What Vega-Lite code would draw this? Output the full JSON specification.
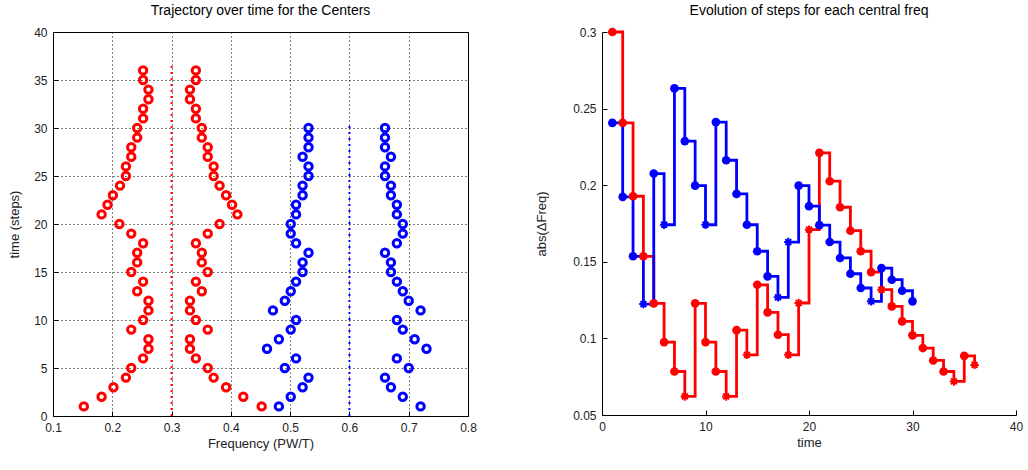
{
  "$schema": "https://vega.github.io/schema/vega-lite/v6.json",
  "background": "white",
  "padding": {"left": 8, "top": 3, "right": 5, "bottom": 3},
  "spacing": 58,
  "datasets": {
    "traj": [
      {"step":1,"freq":0.152,"center":"red","side":"L"},{"step":2,"freq":0.182,"center":"red","side":"L"},{"step":3,"freq":0.202,"center":"red","side":"L"},{"step":4,"freq":0.223,"center":"red","side":"L"},{"step":5,"freq":0.232,"center":"red","side":"L"},{"step":6,"freq":0.252,"center":"red","side":"L"},{"step":7,"freq":0.261,"center":"red","side":"L"},{"step":8,"freq":0.261,"center":"red","side":"L"},{"step":9,"freq":0.232,"center":"red","side":"L"},{"step":10,"freq":0.252,"center":"red","side":"L"},{"step":11,"freq":0.261,"center":"red","side":"L"},{"step":12,"freq":0.261,"center":"red","side":"L"},{"step":13,"freq":0.242,"center":"red","side":"L"},{"step":14,"freq":0.252,"center":"red","side":"L"},{"step":15,"freq":0.232,"center":"red","side":"L"},{"step":16,"freq":0.242,"center":"red","side":"L"},{"step":17,"freq":0.242,"center":"red","side":"L"},{"step":18,"freq":0.252,"center":"red","side":"L"},{"step":19,"freq":0.232,"center":"red","side":"L"},{"step":20,"freq":0.212,"center":"red","side":"L"},{"step":21,"freq":0.182,"center":"red","side":"L"},{"step":22,"freq":0.192,"center":"red","side":"L"},{"step":23,"freq":0.201,"center":"red","side":"L"},{"step":24,"freq":0.213,"center":"red","side":"L"},{"step":25,"freq":0.223,"center":"red","side":"L"},{"step":26,"freq":0.223,"center":"red","side":"L"},{"step":27,"freq":0.232,"center":"red","side":"L"},{"step":28,"freq":0.232,"center":"red","side":"L"},{"step":29,"freq":0.242,"center":"red","side":"L"},{"step":30,"freq":0.242,"center":"red","side":"L"},{"step":31,"freq":0.252,"center":"red","side":"L"},{"step":32,"freq":0.252,"center":"red","side":"L"},{"step":33,"freq":0.261,"center":"red","side":"L"},{"step":34,"freq":0.261,"center":"red","side":"L"},{"step":35,"freq":0.252,"center":"red","side":"L"},{"step":36,"freq":0.252,"center":"red","side":"L"},
      {"step":1,"freq":0.452,"center":"red","side":"R"},{"step":2,"freq":0.421,"center":"red","side":"R"},{"step":3,"freq":0.392,"center":"red","side":"R"},{"step":4,"freq":0.371,"center":"red","side":"R"},{"step":5,"freq":0.361,"center":"red","side":"R"},{"step":6,"freq":0.341,"center":"red","side":"R"},{"step":7,"freq":0.331,"center":"red","side":"R"},{"step":8,"freq":0.331,"center":"red","side":"R"},{"step":9,"freq":0.361,"center":"red","side":"R"},{"step":10,"freq":0.341,"center":"red","side":"R"},{"step":11,"freq":0.331,"center":"red","side":"R"},{"step":12,"freq":0.331,"center":"red","side":"R"},{"step":13,"freq":0.351,"center":"red","side":"R"},{"step":14,"freq":0.341,"center":"red","side":"R"},{"step":15,"freq":0.361,"center":"red","side":"R"},{"step":16,"freq":0.351,"center":"red","side":"R"},{"step":17,"freq":0.351,"center":"red","side":"R"},{"step":18,"freq":0.341,"center":"red","side":"R"},{"step":19,"freq":0.361,"center":"red","side":"R"},{"step":20,"freq":0.381,"center":"red","side":"R"},{"step":21,"freq":0.411,"center":"red","side":"R"},{"step":22,"freq":0.402,"center":"red","side":"R"},{"step":23,"freq":0.392,"center":"red","side":"R"},{"step":24,"freq":0.381,"center":"red","side":"R"},{"step":25,"freq":0.371,"center":"red","side":"R"},{"step":26,"freq":0.371,"center":"red","side":"R"},{"step":27,"freq":0.361,"center":"red","side":"R"},{"step":28,"freq":0.361,"center":"red","side":"R"},{"step":29,"freq":0.351,"center":"red","side":"R"},{"step":30,"freq":0.351,"center":"red","side":"R"},{"step":31,"freq":0.341,"center":"red","side":"R"},{"step":32,"freq":0.341,"center":"red","side":"R"},{"step":33,"freq":0.331,"center":"red","side":"R"},{"step":34,"freq":0.331,"center":"red","side":"R"},{"step":35,"freq":0.341,"center":"red","side":"R"},{"step":36,"freq":0.341,"center":"red","side":"R"},
      {"step":1,"freq":0.481,"center":"blue","side":"L"},{"step":2,"freq":0.501,"center":"blue","side":"L"},{"step":3,"freq":0.521,"center":"blue","side":"L"},{"step":4,"freq":0.531,"center":"blue","side":"L"},{"step":5,"freq":0.491,"center":"blue","side":"L"},{"step":6,"freq":0.510,"center":"blue","side":"L"},{"step":7,"freq":0.461,"center":"blue","side":"L"},{"step":8,"freq":0.481,"center":"blue","side":"L"},{"step":9,"freq":0.501,"center":"blue","side":"L"},{"step":10,"freq":0.510,"center":"blue","side":"L"},{"step":11,"freq":0.471,"center":"blue","side":"L"},{"step":12,"freq":0.491,"center":"blue","side":"L"},{"step":13,"freq":0.501,"center":"blue","side":"L"},{"step":14,"freq":0.510,"center":"blue","side":"L"},{"step":15,"freq":0.521,"center":"blue","side":"L"},{"step":16,"freq":0.521,"center":"blue","side":"L"},{"step":17,"freq":0.531,"center":"blue","side":"L"},{"step":18,"freq":0.510,"center":"blue","side":"L"},{"step":19,"freq":0.501,"center":"blue","side":"L"},{"step":20,"freq":0.501,"center":"blue","side":"L"},{"step":21,"freq":0.510,"center":"blue","side":"L"},{"step":22,"freq":0.510,"center":"blue","side":"L"},{"step":23,"freq":0.521,"center":"blue","side":"L"},{"step":24,"freq":0.521,"center":"blue","side":"L"},{"step":25,"freq":0.531,"center":"blue","side":"L"},{"step":26,"freq":0.531,"center":"blue","side":"L"},{"step":27,"freq":0.521,"center":"blue","side":"L"},{"step":28,"freq":0.531,"center":"blue","side":"L"},{"step":29,"freq":0.531,"center":"blue","side":"L"},{"step":30,"freq":0.531,"center":"blue","side":"L"},
      {"step":1,"freq":0.720,"center":"blue","side":"R"},{"step":2,"freq":0.690,"center":"blue","side":"R"},{"step":3,"freq":0.670,"center":"blue","side":"R"},{"step":4,"freq":0.660,"center":"blue","side":"R"},{"step":5,"freq":0.700,"center":"blue","side":"R"},{"step":6,"freq":0.680,"center":"blue","side":"R"},{"step":7,"freq":0.730,"center":"blue","side":"R"},{"step":8,"freq":0.710,"center":"blue","side":"R"},{"step":9,"freq":0.690,"center":"blue","side":"R"},{"step":10,"freq":0.680,"center":"blue","side":"R"},{"step":11,"freq":0.720,"center":"blue","side":"R"},{"step":12,"freq":0.700,"center":"blue","side":"R"},{"step":13,"freq":0.690,"center":"blue","side":"R"},{"step":14,"freq":0.680,"center":"blue","side":"R"},{"step":15,"freq":0.670,"center":"blue","side":"R"},{"step":16,"freq":0.670,"center":"blue","side":"R"},{"step":17,"freq":0.660,"center":"blue","side":"R"},{"step":18,"freq":0.680,"center":"blue","side":"R"},{"step":19,"freq":0.690,"center":"blue","side":"R"},{"step":20,"freq":0.690,"center":"blue","side":"R"},{"step":21,"freq":0.680,"center":"blue","side":"R"},{"step":22,"freq":0.680,"center":"blue","side":"R"},{"step":23,"freq":0.670,"center":"blue","side":"R"},{"step":24,"freq":0.670,"center":"blue","side":"R"},{"step":25,"freq":0.660,"center":"blue","side":"R"},{"step":26,"freq":0.660,"center":"blue","side":"R"},{"step":27,"freq":0.670,"center":"blue","side":"R"},{"step":28,"freq":0.660,"center":"blue","side":"R"},{"step":29,"freq":0.660,"center":"blue","side":"R"},{"step":30,"freq":0.660,"center":"blue","side":"R"}
    ],
    "centers": [
      {"freq":0.3,"s0":0,"s1":36.5,"center":"red"},
      {"freq":0.6,"s0":0,"s1":30.5,"center":"blue"}
    ],
    "steps": [
      {"time":1,"delta":0.300,"center":"red","marker":"dot"},{"time":2,"delta":0.2407,"center":"red","marker":"dot"},{"time":3,"delta":0.1928,"center":"red","marker":"dot"},{"time":4,"delta":0.1536,"center":"red","marker":"dot"},{"time":5,"delta":0.1229,"center":"red","marker":"dot"},{"time":6,"delta":0.0976,"center":"red","marker":"dot"},{"time":7,"delta":0.0784,"center":"red","marker":"dot"},{"time":8,"delta":0.0621,"center":"red","marker":"star"},{"time":9,"delta":0.1229,"center":"red","marker":"dot"},{"time":10,"delta":0.0976,"center":"red","marker":"dot"},{"time":11,"delta":0.0784,"center":"red","marker":"dot"},{"time":12,"delta":0.0621,"center":"red","marker":"star"},{"time":13,"delta":0.1054,"center":"red","marker":"dot"},{"time":14,"delta":0.0893,"center":"red","marker":"star"},{"time":15,"delta":0.135,"center":"red","marker":"dot"},{"time":16,"delta":0.117,"center":"red","marker":"dot"},{"time":17,"delta":0.1024,"center":"red","marker":"dot"},{"time":18,"delta":0.0893,"center":"red","marker":"star"},{"time":19,"delta":0.1231,"center":"red","marker":"star"},{"time":20,"delta":0.171,"center":"red","marker":"star"},{"time":21,"delta":0.2211,"center":"red","marker":"dot"},{"time":22,"delta":0.2026,"center":"red","marker":"dot"},{"time":23,"delta":0.1856,"center":"red","marker":"dot"},{"time":24,"delta":0.1703,"center":"red","marker":"dot"},{"time":25,"delta":0.1569,"center":"red","marker":"dot"},{"time":26,"delta":0.1433,"center":"red","marker":"dot"},{"time":27,"delta":0.1318,"center":"red","marker":"star"},{"time":28,"delta":0.1209,"center":"red","marker":"dot"},{"time":29,"delta":0.1111,"center":"red","marker":"dot"},{"time":30,"delta":0.102,"center":"red","marker":"dot"},{"time":31,"delta":0.0937,"center":"red","marker":"dot"},{"time":32,"delta":0.0856,"center":"red","marker":"dot"},{"time":33,"delta":0.0784,"center":"red","marker":"dot"},{"time":34,"delta":0.0719,"center":"red","marker":"star"},{"time":35,"delta":0.0886,"center":"red","marker":"dot"},{"time":36,"delta":0.0827,"center":"red","marker":"star"},
      {"time":1,"delta":0.2407,"center":"blue","marker":"dot"},{"time":2,"delta":0.1924,"center":"blue","marker":"dot"},{"time":3,"delta":0.1536,"center":"blue","marker":"dot"},{"time":4,"delta":0.1224,"center":"blue","marker":"star"},{"time":5,"delta":0.2076,"center":"blue","marker":"dot"},{"time":6,"delta":0.1742,"center":"blue","marker":"star"},{"time":7,"delta":0.2632,"center":"blue","marker":"dot"},{"time":8,"delta":0.2288,"center":"blue","marker":"dot"},{"time":9,"delta":0.1997,"center":"blue","marker":"dot"},{"time":10,"delta":0.1742,"center":"blue","marker":"star"},{"time":11,"delta":0.2412,"center":"blue","marker":"dot"},{"time":12,"delta":0.2163,"center":"blue","marker":"dot"},{"time":13,"delta":0.1943,"center":"blue","marker":"dot"},{"time":14,"delta":0.1742,"center":"blue","marker":"dot"},{"time":15,"delta":0.1569,"center":"blue","marker":"dot"},{"time":16,"delta":0.1405,"center":"blue","marker":"dot"},{"time":17,"delta":0.1268,"center":"blue","marker":"star"},{"time":18,"delta":0.1629,"center":"blue","marker":"star"},{"time":19,"delta":0.1997,"center":"blue","marker":"dot"},{"time":20,"delta":0.1863,"center":"blue","marker":"dot"},{"time":21,"delta":0.1739,"center":"blue","marker":"dot"},{"time":22,"delta":0.1629,"center":"blue","marker":"dot"},{"time":23,"delta":0.1525,"center":"blue","marker":"dot"},{"time":24,"delta":0.1422,"center":"blue","marker":"dot"},{"time":25,"delta":0.1329,"center":"blue","marker":"dot"},{"time":26,"delta":0.1242,"center":"blue","marker":"star"},{"time":27,"delta":0.1459,"center":"blue","marker":"dot"},{"time":28,"delta":0.1383,"center":"blue","marker":"dot"},{"time":29,"delta":0.1311,"center":"blue","marker":"dot"},{"time":30,"delta":0.1242,"center":"blue","marker":"dot"}
    ]
  },
  "hconcat": [
    {
      "width": 415,
      "height": 384,
      "view": {"stroke": "black", "strokeWidth": 1},
      "title": {"text": "Trajectory over time for the Centers", "fontSize": 14, "fontWeight": "normal", "font": "Liberation Sans", "offset": 8},
      "layer": [
        {
          "data": {"name": "centers"},
          "mark": {"type": "rule", "strokeWidth": 2, "strokeDash": [2, 4]},
          "encoding": {
            "x": {"field": "freq", "type": "quantitative"},
            "y": {"field": "s0", "type": "quantitative"},
            "y2": {"field": "s1"},
            "color": {"field": "center", "type": "nominal", "scale": {"domain": ["red", "blue"], "range": ["#ff0000", "#0000ff"]}, "legend": null}
          }
        },
        {
          "data": {"name": "traj"},
          "mark": {"type": "point", "shape": "circle", "filled": false, "size": 55, "strokeWidth": 3, "opacity": 1},
          "encoding": {
            "x": {"field": "freq", "type": "quantitative", "scale": {"domain": [0.1, 0.8], "nice": false, "zero": false},
                  "axis": {"title": "Frequency (PW/T)", "values": [0.1, 0.2, 0.3, 0.4, 0.5, 0.6, 0.7, 0.8], "format": ".1f"}},
            "y": {"field": "step", "type": "quantitative", "scale": {"domain": [0, 40], "nice": false},
                  "axis": {"title": "time (steps)", "values": [0, 5, 10, 15, 20, 25, 30, 35, 40], "titlePadding": 12}},
            "detail": {"field": "side"},
            "color": {"field": "center", "type": "nominal", "scale": {"domain": ["red", "blue"], "range": ["#ff0000", "#0000ff"]}, "legend": null}
          }
        }
      ]
    },
    {
      "width": 414,
      "height": 383,
      "view": {"stroke": null},
      "title": {"text": "Evolution of steps for each central freq", "fontSize": 14, "fontWeight": "normal", "font": "Liberation Sans", "offset": 8},
      "data": {"name": "steps"},
      "encoding": {
        "x": {"field": "time", "type": "quantitative", "scale": {"domain": [0, 40], "nice": false},
              "axis": {"title": "time", "values": [0, 10, 20, 30, 40], "grid": false}},
        "y": {"field": "delta", "type": "quantitative", "scale": {"domain": [0.05, 0.3], "nice": false, "zero": false},
              "axis": {"title": "abs(ΔFreq)", "values": [0.05, 0.1, 0.15, 0.2, 0.25, 0.3], "format": ".2~f", "grid": false, "titlePadding": 24}},
        "color": {"field": "center", "type": "nominal", "scale": {"domain": ["red", "blue"], "range": ["#ff0000", "#0000ff"]}, "legend": null}
      },
      "layer": [
        {"mark": {"type": "line", "interpolate": "step-after", "strokeWidth": 2.8}},
        {"transform": [{"filter": "datum.marker === 'dot'"}],
         "mark": {"type": "point", "shape": "circle", "filled": true, "size": 75, "opacity": 1}},
        {"transform": [{"filter": "datum.marker === 'star'"}],
         "mark": {"type": "point", "shape": "M-1,0L1,0M0,-1L0,1M-0.7,-0.7L0.7,0.7M-0.7,0.7L0.7,-0.7", "filled": false, "size": 70, "strokeWidth": 2, "opacity": 1}}
      ]
    }
  ],
  "config": {
    "font": "Liberation Sans",
    "axis": {
      "domainColor": "black",
      "domainWidth": 1,
      "tickColor": "black",
      "tickSize": -5,
      "labelPadding": 11,
      "labelFontSize": 12,
      "labelColor": "#222222",
      "titleFontSize": 13,
      "titleFontWeight": "normal",
      "titleColor": "#222222",
      "labelFont": "Liberation Sans",
      "titleFont": "Liberation Sans",
      "grid": true,
      "gridColor": "black",
      "gridDash": [1, 3],
      "gridWidth": 1,
      "gridOpacity": 1
    },
    "axisX": {"titlePadding": 4, "labelFlush": false},
    "axisY": {"labelFlush": false},
    "title": {"anchor": "middle", "color": "black"}
  }
}
